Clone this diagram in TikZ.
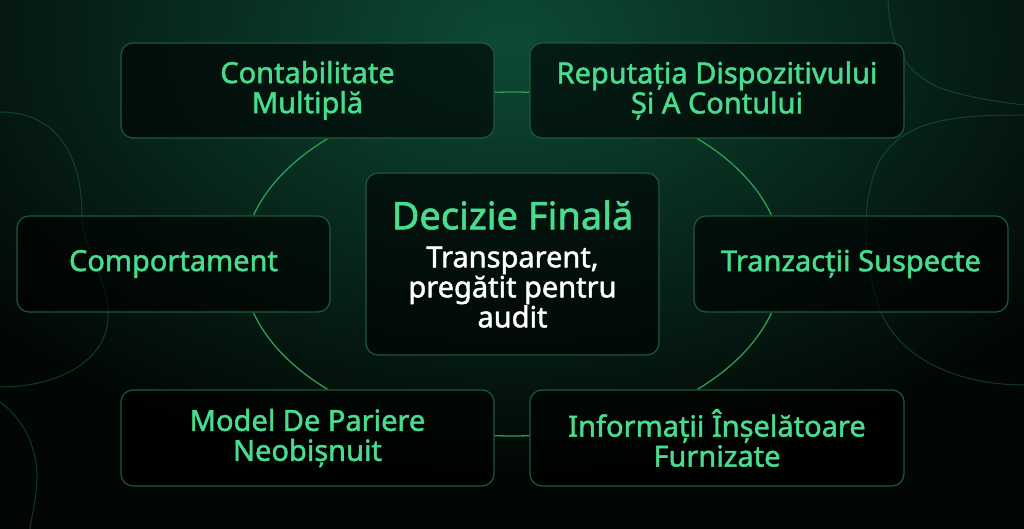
\documentclass[tikz,border=0pt]{standalone}
\usepackage{fontspec}
\setmainfont{Noto Sans}
\newfontfamily\cardfont{Noto Sans}[FakeBold=1.6]
\usetikzlibrary{backgrounds}
\definecolor{bgdark}{HTML}{020705}
\definecolor{glow}{HTML}{0D4A36}
\definecolor{boxline}{HTML}{1E5A34}
\definecolor{ringline}{HTML}{2B9E52}
\definecolor{labelgreen}{HTML}{48DC8E}
\definecolor{blobline}{HTML}{1B6A4A}

\begin{document}
\begin{tikzpicture}[x=1pt, y=-1pt,
  card/.style={draw=boxline, line width=1.2pt, rounded corners=12pt,
    fill=black, fill opacity=0.6, text opacity=1, text=labelgreen,
    align=center, inner sep=0pt,
    font=\cardfont\fontsize{29}{30}\selectfont},
  link/.style={draw=ringline, line width=1.3pt},
  blob/.style={draw=blobline, line width=1pt, opacity=0.5}]

\useasboundingbox (0,0) rectangle (1024,529);

% cards
\node[card, minimum width=373pt, minimum height=95pt] (multi) at (307.5,90.5)
  {Contabilitate\\Multiplă};
\node[card, minimum width=374pt, minimum height=95pt] (device) at (717,90.5)
  {Reputația Dispozitivului\\Și A Contului};
\node[card, minimum width=313pt, minimum height=96pt] (behav) at (173.5,264)
  {Comportament};
\node[card, minimum width=314pt, minimum height=96pt] (trans) at (851,264)
  {Tranzacții Suspecte};
\node[card, minimum width=373pt, minimum height=96pt] (betting) at (307.5,438)
  {Model De Pariere\\Neobișnuit};
\node[card, minimum width=374pt, minimum height=96pt] (info) at (717,438)
  {Informații Înșelătoare\\Furnizate};
\node[card, minimum width=293pt, minimum height=182pt] (final) at (512.5,264)
  {{\fontsize{38}{38}\selectfont Decizie Finală}\\[8pt]
   \color{white}Transparent,\\\color{white}pregătit pentru\\\color{white}audit};

\begin{scope}[on background layer]
  % background
  \fill[bgdark] (0,0) rectangle (1024,529);
  \begin{scope}
    \clip (0,0) rectangle (1024,529);
    \shade[inner color=glow, outer color=bgdark] (510,40) ellipse (680 and 430);
    \draw[blob] (0,112) .. controls (60,112) and (82,160) .. (82,215)
      .. controls (82,250) and (110,280) .. (108,320)
      .. controls (105,360) and (60,387) .. (0,387);
    \draw[blob] (0,402) .. controls (25,420) and (38,450) .. (37,480)
      .. controls (36,500) and (32,515) .. (30,529);
    \draw[blob] (888,0) .. controls (890,40) and (900,70) .. (940,88)
      .. controls (970,98) and (1000,102) .. (1024,105);
    \draw[blob] (1024,115) .. controls (960,115) and (905,118) .. (880,160)
      .. controls (860,200) and (862,260) .. (880,310)
      .. controls (900,360) and (960,385) .. (1024,385);
  \end{scope}
  % ring linking the cards, hidden behind them
  \begin{scope}[even odd rule]
    \clip (0,0) rectangle (1024,529)
      (multi.south west) rectangle (multi.north east)
      (device.south west) rectangle (device.north east)
      (behav.south west) rectangle (behav.north east)
      (trans.south west) rectangle (trans.north east)
      (betting.south west) rectangle (betting.north east)
      (info.south west) rectangle (info.north east)
      (final.south west) rectangle (final.north east);
    \draw[link] (final.center) ellipse (270 and 172);
  \end{scope}
\end{scope}

\end{tikzpicture}
\end{document}
